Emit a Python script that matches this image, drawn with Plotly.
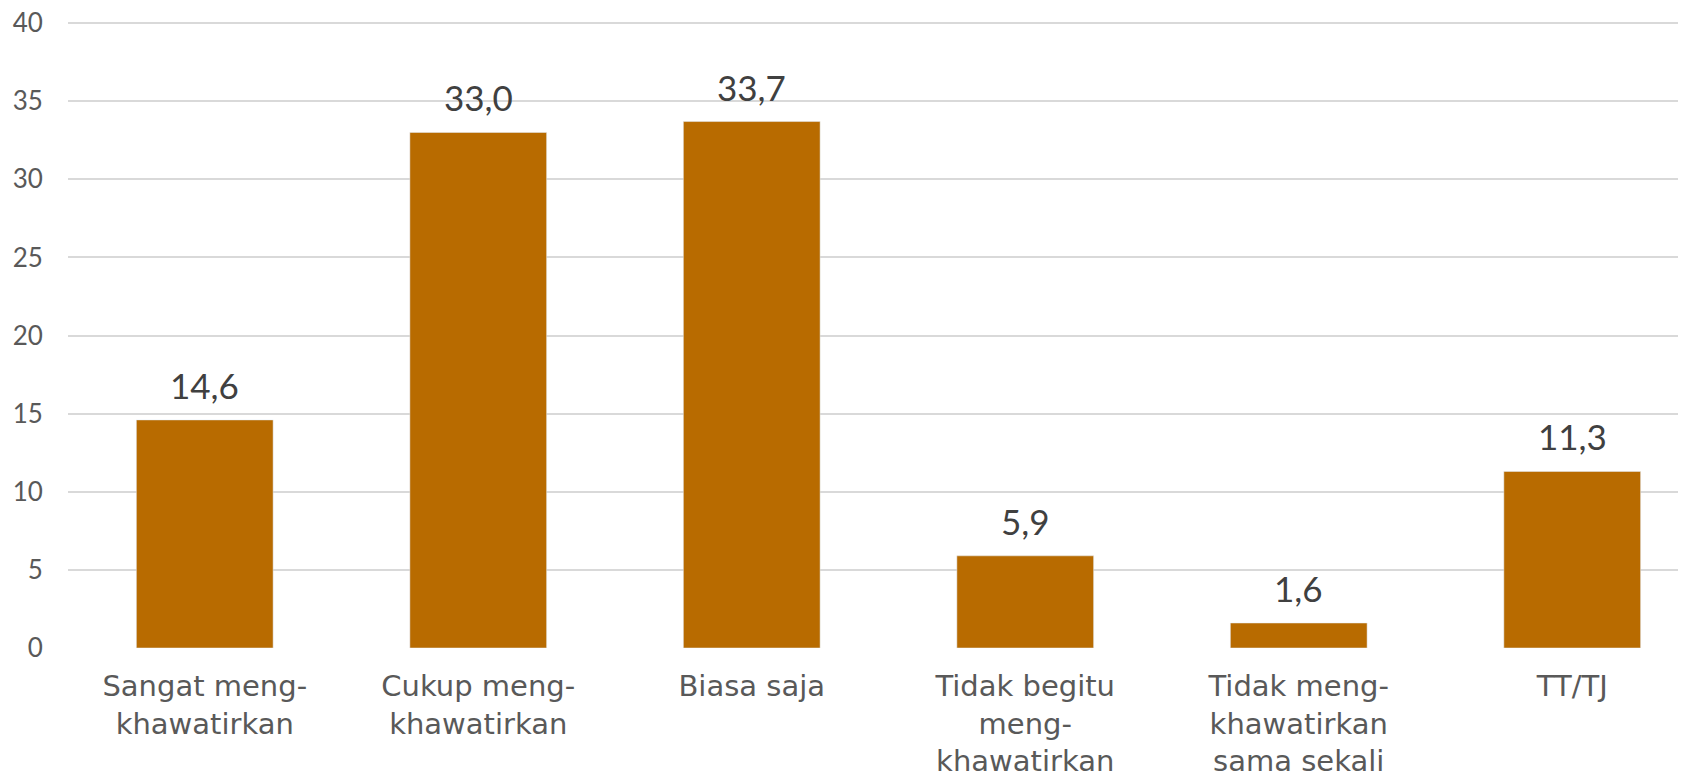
import plotly.graph_objects as go

categories = [
    "Sangat meng-<br>khawatirkan",
    "Cukup meng-<br>khawatirkan",
    "Biasa saja",
    "Tidak begitu<br>meng-<br>khawatirkan",
    "Tidak meng-<br>khawatirkan<br>sama sekali",
    "TT/TJ",
]
values = [14.6, 33.0, 33.7, 5.9, 1.6, 11.3]
y_ticks = [0, 5, 10, 15, 20, 25, 30, 35, 40]

BAR = "#B86B00"
TEXT = "#595959"
FONT = "Lato"

x_idx = list(range(len(categories)))

fig = go.Figure()
fig.add_trace(go.Bar(x=x_idx, y=values, marker_color=BAR, width=0.5, hoverinfo="skip"))

for i, v in zip(x_idx, values):
    fig.add_annotation(
        x=i, y=v, text=f"{v:.1f}".replace(".", ","), showarrow=False,
        yanchor="bottom", yshift=12, font=dict(family=FONT, size=35, color="#404040"),
    )

# page body has an 8px margin, so the figure is sized/offset to compensate
fig.update_layout(
    width=1678,
    height=772,
    margin=dict(l=60, r=0, t=12, b=132),
    paper_bgcolor="white",
    plot_bgcolor="white",
    showlegend=False,
    bargap=0.5,
)
fig.update_xaxes(
    tickmode="array", tickvals=x_idx, ticktext=categories,
    range=[-0.5, 5.416], automargin=False,
    tickfont=dict(family="DejaVu Sans", size=29, color=TEXT),
    ticks="outside", ticklen=12, tickcolor="rgba(0,0,0,0)",
    showgrid=False, showline=False, zeroline=False,
)
fig.update_yaxes(
    range=[0, 40.2], tickvals=y_ticks, automargin=False,
    ticklabeloverflow="allow",
    tickfont=dict(family=FONT, size=26, color=TEXT),
    ticks="outside", ticklen=19, tickcolor="rgba(0,0,0,0)",
    showgrid=True, gridcolor="#D9D9D9", gridwidth=1.5,
    zeroline=False, showline=False,
)

fig.write_html("out.html")
